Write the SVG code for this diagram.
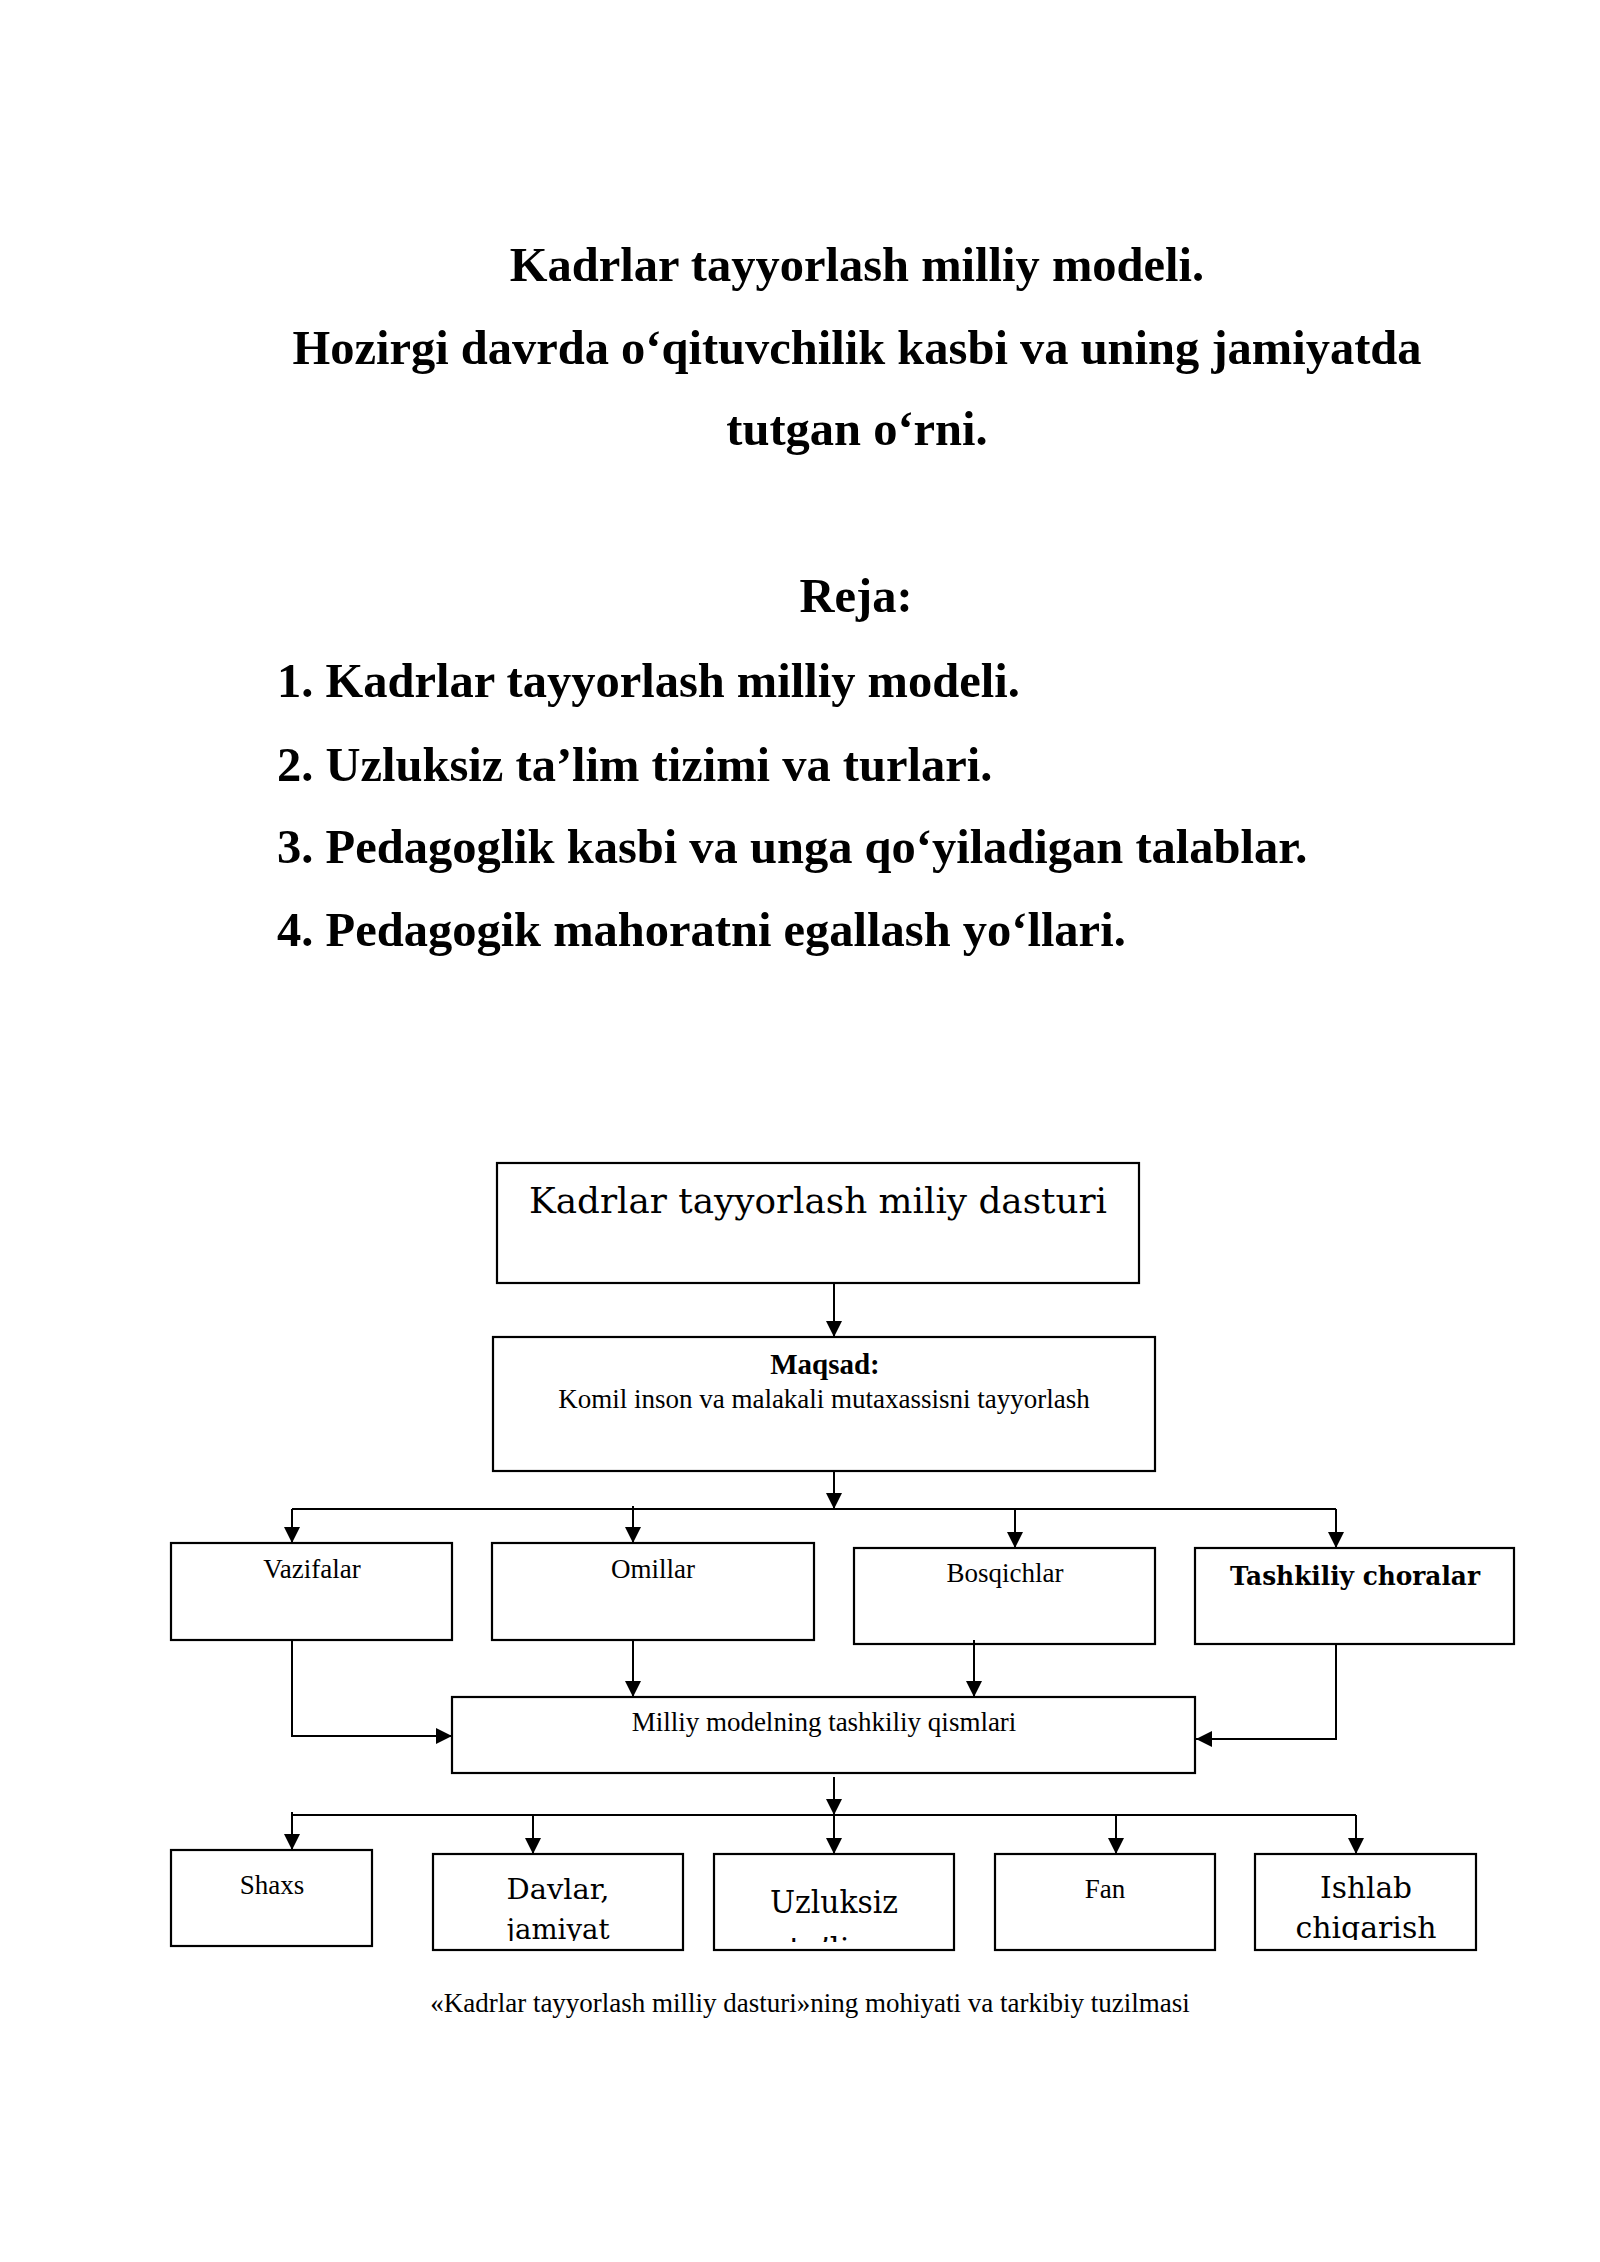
<svg xmlns="http://www.w3.org/2000/svg" width="1600" height="2262" viewBox="0 0 1600 2262">
<style>
.bg{fill:#ffffff}
.title{font-family:"Liberation Serif","Times New Roman",serif;font-weight:bold;font-size:48.5px;fill:#000}
.box{fill:none;stroke:#000;stroke-width:2.2}
.t{font-family:"Liberation Serif","Times New Roman",serif;font-size:27px;fill:#000}
.tb{font-family:"Liberation Serif","Times New Roman",serif;font-size:29px;font-weight:bold;fill:#000}
.d{font-family:"DejaVu Serif",serif;fill:#000}
.c{text-anchor:middle}
.conn path{fill:none;stroke:#000;stroke-width:2}
</style>
<defs>
<marker id="ah" markerUnits="userSpaceOnUse" markerWidth="16" markerHeight="16" refX="14" refY="7" orient="auto" viewBox="0 0 14 14">
<path d="M0,0 L14,7 L0,14 z" fill="#000"/>
</marker>
<clipPath id="clipDavlar"><rect x="434" y="1856" width="248" height="85"/></clipPath>
<clipPath id="clipUzl"><rect x="715" y="1856" width="238" height="86"/></clipPath>
<clipPath id="clipIsh"><rect x="1257" y="1856" width="218" height="84"/></clipPath>
</defs>
<rect class="bg" x="0" y="0" width="1600" height="2262"/>

<g id="header">
<text class="title c" x="857" y="281">Kadrlar tayyorlash milliy modeli.</text>
<text class="title c" x="857" y="364">Hozirgi davrda o‘qituvchilik kasbi va uning jamiyatda</text>
<text class="title c" x="857" y="445">tutgan o‘rni.</text>
<text class="title c" x="856" y="612">Reja:</text>
<text class="title" x="277" y="697">1. Kadrlar tayyorlash milliy modeli.</text>
<text class="title" x="277" y="781">2. Uzluksiz ta’lim tizimi va turlari.</text>
<text class="title" x="277" y="863">3. Pedagoglik kasbi va unga qo‘yiladigan talablar.</text>
<text class="title" x="277" y="946">4. Pedagogik mahoratni egallash yo‘llari.</text>
</g>

<g class="conn" id="connectors">
<path d="M834,1283 V1337" marker-end="url(#ah)"/>
<path d="M834,1471 V1509" marker-end="url(#ah)"/>
<path d="M292,1509 H1336"/>
<path d="M292,1509 V1543" marker-end="url(#ah)"/>
<path d="M633,1506 V1543" marker-end="url(#ah)"/>
<path d="M1015,1509 V1548" marker-end="url(#ah)"/>
<path d="M1336,1509 V1548" marker-end="url(#ah)"/>
<path d="M292,1640 V1736 H452" marker-end="url(#ah)"/>
<path d="M633,1640 V1697" marker-end="url(#ah)"/>
<path d="M974,1640 V1697" marker-end="url(#ah)"/>
<path d="M1336,1644 V1739 H1196" marker-end="url(#ah)"/>
<path d="M834,1777 V1815" marker-end="url(#ah)"/>
<path d="M292,1815 H1356"/>
<path d="M292,1812 V1850" marker-end="url(#ah)"/>
<path d="M533,1815 V1854" marker-end="url(#ah)"/>
<path d="M834,1815 V1854" marker-end="url(#ah)"/>
<path d="M1116,1815 V1854" marker-end="url(#ah)"/>
<path d="M1356,1815 V1854" marker-end="url(#ah)"/>
</g>

<g id="n-dastur">
<rect class="box" x="497" y="1163" width="642" height="120"/>
<text class="d c" x="818" y="1213" font-size="36" textLength="578" lengthAdjust="spacingAndGlyphs">Kadrlar tayyorlash miliy dasturi</text>
</g>
<g id="n-maqsad">
<rect class="box" x="493" y="1337" width="662" height="134"/>
<text class="tb c" x="825" y="1374">Maqsad:</text>
<text class="t c" x="824" y="1408">Komil inson va malakali mutaxassisni tayyorlash</text>
</g>
<g id="n-vazifalar">
<rect class="box" x="171" y="1543" width="281" height="97"/>
<text class="t c" x="312" y="1578">Vazifalar</text>
</g>
<g id="n-omillar">
<rect class="box" x="492" y="1543" width="322" height="97"/>
<text class="t c" x="653" y="1578">Omillar</text>
</g>
<g id="n-bosqichlar">
<rect class="box" x="854" y="1548" width="301" height="96"/>
<text class="t c" x="1005" y="1582">Bosqichlar</text>
</g>
<g id="n-tashkiliy">
<rect class="box" x="1195" y="1548" width="319" height="96"/>
<text class="d c" x="1355" y="1585" font-size="26" font-weight="bold" textLength="250" lengthAdjust="spacingAndGlyphs">Tashkiliy choralar</text>
</g>
<g id="n-milliy">
<rect class="box" x="452" y="1697" width="743" height="76"/>
<text class="t c" x="824" y="1731">Milliy modelning tashkiliy qismlari</text>
</g>
<g id="n-shaxs">
<rect class="box" x="171" y="1850" width="201" height="96"/>
<text class="t c" x="272" y="1894">Shaxs</text>
</g>
<g id="n-davlar">
<rect class="box" x="433" y="1854" width="250" height="96"/>
<g clip-path="url(#clipDavlar)">
<text class="d c" x="558" y="1899" font-size="28" textLength="103" lengthAdjust="spacingAndGlyphs">Davlar,</text>
<text class="d c" x="558" y="1939" font-size="28" textLength="103" lengthAdjust="spacingAndGlyphs">jamiyat</text>
</g>
</g>
<g id="n-uzluksiz">
<rect class="box" x="714" y="1854" width="240" height="96"/>
<g clip-path="url(#clipUzl)">
<text class="d c" x="834" y="1913" font-size="31" textLength="128" lengthAdjust="spacingAndGlyphs">Uzluksiz</text>
<text class="d c" x="834" y="1960" font-size="31">ta’lim</text>
</g>
</g>
<g id="n-fan">
<rect class="box" x="995" y="1854" width="220" height="96"/>
<text class="t c" x="1105" y="1898">Fan</text>
</g>
<g id="n-ishlab">
<rect class="box" x="1255" y="1854" width="221" height="96"/>
<g clip-path="url(#clipIsh)">
<text class="d c" x="1366" y="1898" font-size="30" textLength="92" lengthAdjust="spacingAndGlyphs">Ishlab</text>
<text class="d c" x="1366" y="1938" font-size="30" textLength="141" lengthAdjust="spacingAndGlyphs">chiqarish</text>
</g>
</g>
<g id="caption">
<text class="t c" x="810" y="2012">«Kadrlar tayyorlash milliy dasturi»ning mohiyati va tarkibiy tuzilmasi</text>
</g>
</svg>
